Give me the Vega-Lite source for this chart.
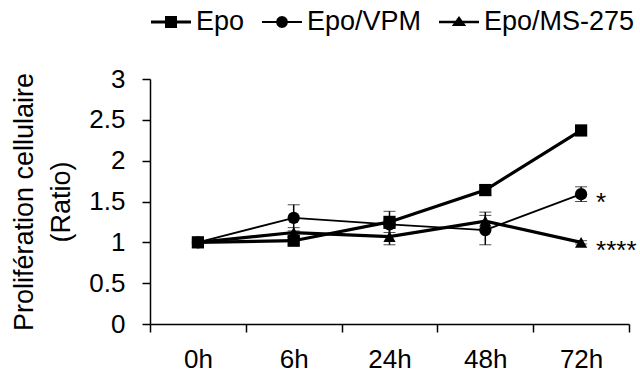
{
  "$schema": "https://vega.github.io/schema/vega-lite/v6.json",
  "autosize": "none",
  "width": 479,
  "height": 245,
  "padding": {"left": 150, "top": 79, "right": 11, "bottom": 52},
  "background": "white",
  "config": {
    "view": {"stroke": null},
    "font": "Liberation Sans",
    "axis": {
      "grid": false,
      "domainColor": "black",
      "domainWidth": 1.5,
      "tickColor": "black",
      "tickWidth": 1.5,
      "tickSize": 8,
      "labelFont": "Liberation Sans",
      "labelFontSize": 26,
      "labelColor": "black",
      "titleFont": "Liberation Sans",
      "titleFontSize": 27,
      "titleFontWeight": "normal",
      "titleColor": "black"
    },
    "legend": {
      "labelFont": "Liberation Sans",
      "labelFontSize": 27,
      "labelColor": "black"
    }
  },
  "datasets": {
    "main": [
      {"time": "0h", "series": "Epo", "value": 1.0, "err": 0.03},
      {"time": "6h", "series": "Epo", "value": 1.02, "err": 0.05},
      {"time": "24h", "series": "Epo", "value": 1.25, "err": 0.13},
      {"time": "48h", "series": "Epo", "value": 1.64, "err": 0.06},
      {"time": "72h", "series": "Epo", "value": 2.37, "err": 0.04},
      {"time": "0h", "series": "Epo/VPM", "value": 1.0, "err": 0.03},
      {"time": "6h", "series": "Epo/VPM", "value": 1.3, "err": 0.16},
      {"time": "24h", "series": "Epo/VPM", "value": 1.22, "err": 0.05},
      {"time": "48h", "series": "Epo/VPM", "value": 1.15, "err": 0.18},
      {"time": "72h", "series": "Epo/VPM", "value": 1.59, "err": 0.09},
      {"time": "0h", "series": "Epo/MS-275", "value": 1.0, "err": 0.03},
      {"time": "6h", "series": "Epo/MS-275", "value": 1.12, "err": 0.06},
      {"time": "24h", "series": "Epo/MS-275", "value": 1.07, "err": 0.1},
      {"time": "48h", "series": "Epo/MS-275", "value": 1.26, "err": 0.11},
      {"time": "72h", "series": "Epo/MS-275", "value": 1.0, "err": 0.02}
    ],
    "notes": [
      {"time": "72h", "value": 1.59, "label": "*"},
      {"time": "72h", "value": 1.0, "label": "****"}
    ]
  },
  "data": {"name": "main"},
  "encoding": {
    "x": {
      "field": "time",
      "type": "ordinal",
      "sort": ["0h", "6h", "24h", "48h", "72h"],
      "scale": {"paddingInner": 0, "paddingOuter": 0},
      "axis": {"title": null, "labelAngle": 0, "tickBand": "extent", "labelPadding": 14}
    },
    "y": {
      "field": "value",
      "type": "quantitative",
      "scale": {"domain": [0, 3]},
      "axis": {
        "values": [0, 0.5, 1, 1.5, 2, 2.5, 3],
        "format": "~g",
        "labelPadding": 17,
        "title": ["Prolifération cellulaire", "(Ratio)"],
        "titleLineHeight": 37,
        "titlePadding": 13
      }
    }
  },
  "resolve": {"scale": {"shape": "independent"}},
  "layer": [
    {
      "mark": {"type": "errorbar", "ticks": {"size": 12, "color": "black", "strokeWidth": 1.5}, "rule": {"color": "black", "strokeWidth": 1.5}},
      "encoding": {
        "y": {"field": "value", "type": "quantitative"},
        "yError": {"field": "err"},
        "detail": {"field": "series"}
      }
    },
    {
      "transform": [{"filter": "datum.series !== 'Epo/VPM'"}],
      "mark": {"type": "line", "color": "black", "strokeWidth": 3.2},
      "encoding": {
        "detail": {"field": "series"}
      }
    },
    {
      "transform": [{"filter": "datum.series === 'Epo/VPM'"}],
      "mark": {"type": "line", "color": "black", "strokeWidth": 1.8},
      "encoding": {
        "detail": {"field": "series"}
      }
    },
    {
      "mark": {"type": "point", "filled": true, "color": "black", "opacity": 1, "size": 150},
      "encoding": {
        "shape": {
          "field": "series",
          "type": "nominal",
          "scale": {"domain": ["Epo", "Epo/VPM", "Epo/MS-275"], "range": ["square", "circle", "triangle-up"]},
          "legend": null
        }
      }
    },
    {
      "mark": {"type": "point", "filled": true, "color": "black", "opacity": 1, "size": 0},
      "encoding": {
        "shape": {
          "field": "series",
          "type": "nominal",
          "scale": {
            "domain": ["Epo", "Epo/VPM", "Epo/MS-275"],
            "range": [
              "M-1,-0.075H1V0.075H-1ZM-0.3,-0.3H0.3V0.3H-0.3Z",
              "M-1,-0.05H1V0.05H-1ZM-0.3,0L-0.26,-0.15L-0.15,-0.26L0,-0.3L0.15,-0.26L0.26,-0.15L0.3,0L0.26,0.15L0.15,0.26L0,0.3L-0.15,0.26L-0.26,0.15Z",
              "M-1,-0.06H1V0.06H-1ZM0,-0.3L0.36,0.2L-0.36,0.2Z"
            ]
          },
          "legend": {
            "title": null,
            "orient": "none",
            "direction": "horizontal",
            "legendX": 0,
            "legendY": -78,
            "symbolSize": 1600,
            "symbolFillColor": "black",
            "symbolOpacity": 1,
            "labelOffset": 4,
            "columnPadding": 14
          }
        }
      }
    },
    {
      "data": {"name": "notes"},
      "mark": {"type": "text", "align": "left", "baseline": "alphabetic", "dx": 15, "dy": 17, "font": "Liberation Sans", "fontSize": 26, "color": "black"},
      "encoding": {
        "text": {"field": "label"}
      }
    }
  ]
}
